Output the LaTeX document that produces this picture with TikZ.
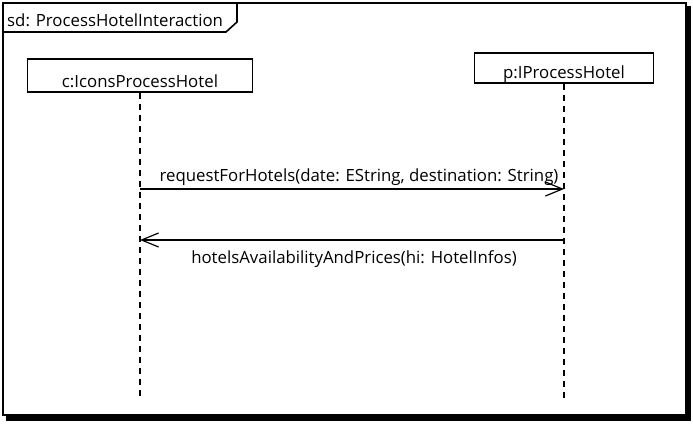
\documentclass[tikz,border=0pt]{standalone}
\usepackage{fontspec}
\setmainfont{Open Sans}
\usetikzlibrary{arrows.meta}
\tikzset{
  lifebox/.style={draw, line width=1.6pt, inner sep=0pt, text depth=5pt},
  lifeline/.style={line width=1.2pt, dash pattern=on 6pt off 5pt},
  msg/.style={line width=1.2pt, -{Straight Barb[length=17pt, width=14pt, line width=1.2pt]}},
  msgtext/.style={font=\fontsize{16.8pt}{19pt}\selectfont, inner sep=0pt}
}
\begin{document}
\begin{tikzpicture}[x=1pt, y=-1pt]
      \useasboundingbox (0,0) rectangle (693,424);
      % frame with its shadow
      \draw[line width=5pt] (6,418.5) -- (688.5,418.5) -- (688.5,6);
      \draw[line width=1.6pt, fill=white] (3,3) rectangle (686,415);
      \draw[line width=1.6pt] (3,32) -- (226,32) -- (237,22) -- (237,3);
      \node[msgtext, anchor=base west] (title) at (7,26) {sd: ProcessHotelInteraction};
      % lifelines
      \node[lifebox, msgtext, minimum width=225pt, text height=28pt] (c) at (140,75.5) {c:IconsProcessHotel};
      \node[lifebox, msgtext, minimum width=179pt, text height=25pt] (p) at (564,68) {p:IProcessHotel};
      \coordinate (cend) at (140,399);
      \coordinate (pend) at (564,399);
      \draw[lifeline] (c.south) -- (cend);
      \draw[lifeline] (p.south) -- (pend);
      % messages
      \coordinate (c1) at (140,189);
      \coordinate (p1) at (564,189);
      \coordinate (c2) at (140,240);
      \coordinate (p2) at (564,240);
      \begin{scope}[msgtext]
        \draw[msg] (c1) -- node[above=3pt, xshift=7pt] {requestForHotels(date: EString, destination: String)} (p1);
        \draw[msg] (p2) -- node[below=10pt, xshift=2pt] {hotelsAvailabilityAndPrices(hi: HotelInfos)} (c2);
      \end{scope}
    \end{tikzpicture}
\end{document}
